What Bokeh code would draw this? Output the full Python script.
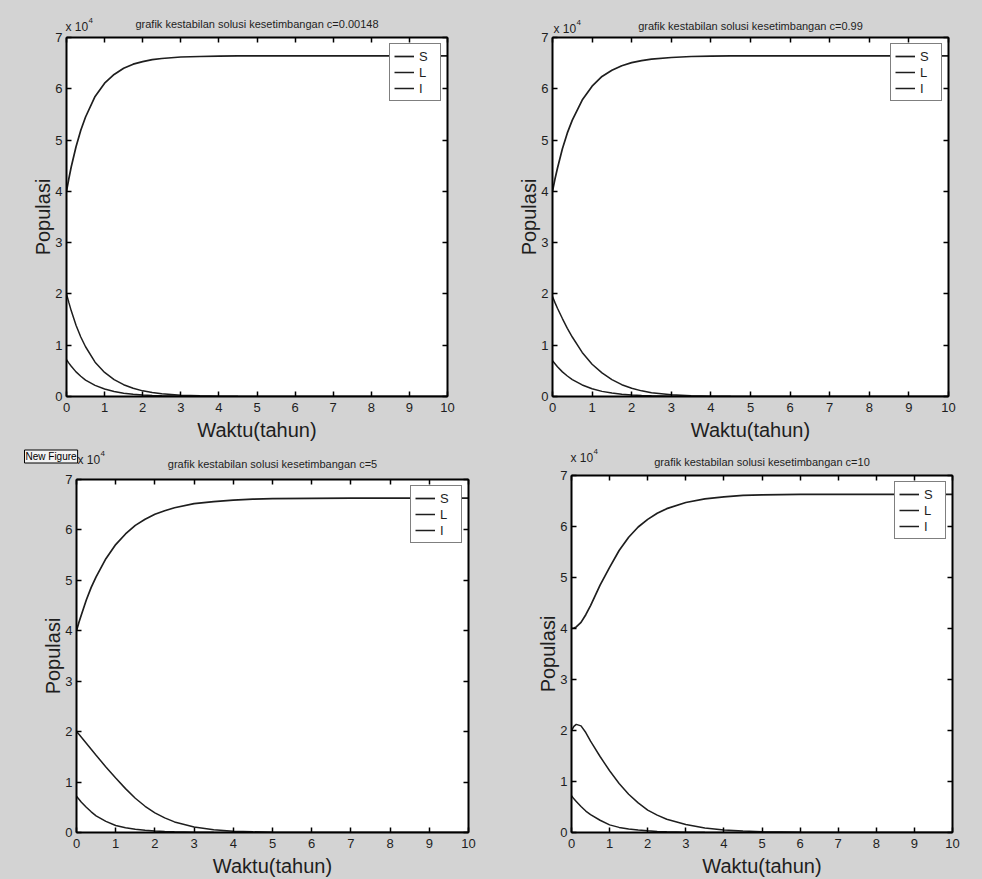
from bokeh.plotting import figure
from bokeh.layouts import row, column
from bokeh.models import LinearAxis, FixedTicker, Label, Range1d, Legend, LegendItem
from bokeh.embed import file_html
from bokeh.resources import INLINE

# ---------------- data (population values in units of 10^4) ----------------
t = [0, 0.0625, 0.125, 0.25, 0.375, 0.5, 0.75, 1, 1.25, 1.5, 1.75, 2, 2.25, 2.5,
     3, 3.5, 4, 4.5, 5, 6, 7, 8, 9, 10]

titles = ["grafik kestabilan solusi kesetimbangan c=0.00148",
          "grafik kestabilan solusi kesetimbangan c=0.99",
          "grafik kestabilan solusi kesetimbangan c=5",
          "grafik kestabilan solusi kesetimbangan c=10"]

series_names = ["S", "L", "I"]

# c = 0.00148
S_c1 = [4.00, 4.25, 4.48, 4.87, 5.19, 5.45, 5.85, 6.11, 6.28, 6.40, 6.48, 6.53, 6.57, 6.59,
        6.62, 6.63, 6.635, 6.64, 6.64, 6.64, 6.64, 6.64, 6.64, 6.64]
L_c1 = [2.00, 1.83, 1.67, 1.39, 1.16, 0.97, 0.67, 0.47, 0.33, 0.23, 0.16, 0.11, 0.077, 0.053,
        0.026, 0.013, 0.006, 0.003, 0.0015, 0, 0, 0, 0, 0]
I_c1 = [0.72, 0.65, 0.59, 0.48, 0.395, 0.32, 0.217, 0.145, 0.097, 0.065, 0.044, 0.029, 0.02, 0.013,
        0.006, 0.003, 0.001, 0, 0, 0, 0, 0, 0, 0]

# c = 0.99
S_c2 = [4.00, 4.24, 4.45, 4.83, 5.14, 5.39, 5.78, 6.05, 6.24, 6.36, 6.45, 6.51, 6.55, 6.58,
        6.61, 6.63, 6.635, 6.64, 6.64, 6.64, 6.64, 6.64, 6.64, 6.64]
L_c2 = [1.95, 1.83, 1.72, 1.52, 1.33, 1.16, 0.86, 0.63, 0.46, 0.33, 0.23, 0.16, 0.11, 0.075,
        0.035, 0.016, 0.007, 0.003, 0.001, 0, 0, 0, 0, 0]
I_c2 = [0.70, 0.64, 0.58, 0.48, 0.40, 0.33, 0.225, 0.15, 0.10, 0.068, 0.046, 0.031, 0.021, 0.014,
        0.007, 0.003, 0.001, 0, 0, 0, 0, 0, 0, 0]

# c = 5
S_c3 = [4.00, 4.17, 4.32, 4.61, 4.86, 5.07, 5.43, 5.71, 5.92, 6.09, 6.21, 6.31, 6.38, 6.44,
        6.52, 6.56, 6.59, 6.61, 6.62, 6.625, 6.63, 6.63, 6.63, 6.63]
L_c3 = [2.00, 1.95, 1.89, 1.77, 1.65, 1.53, 1.30, 1.08, 0.87, 0.68, 0.52, 0.39, 0.29, 0.21,
        0.11, 0.055, 0.027, 0.013, 0.006, 0.001, 0, 0, 0, 0]
I_c3 = [0.72, 0.66, 0.60, 0.50, 0.41, 0.33, 0.22, 0.14, 0.095, 0.065, 0.045, 0.03, 0.02, 0.014,
        0.007, 0.003, 0.001, 0, 0, 0, 0, 0, 0, 0]

# c = 10
S_c4 = [4.00, 4.01, 4.03, 4.12, 4.27, 4.45, 4.85, 5.20, 5.53, 5.79, 5.99, 6.14, 6.26, 6.35,
        6.47, 6.54, 6.58, 6.61, 6.62, 6.63, 6.63, 6.63, 6.63, 6.63]
L_c4 = [2.00, 2.08, 2.12, 2.09, 1.96, 1.79, 1.49, 1.21, 0.96, 0.75, 0.58, 0.44, 0.34, 0.26,
        0.155, 0.09, 0.05, 0.027, 0.014, 0.003, 0, 0, 0, 0]
I_c4 = [0.72, 0.66, 0.61, 0.51, 0.42, 0.35, 0.24, 0.15, 0.10, 0.07, 0.05, 0.033, 0.022, 0.015,
        0.007, 0.003, 0.001, 0, 0, 0, 0, 0, 0, 0]

x_ticks = [0, 1, 2, 3, 4, 5, 6, 7, 8, 9, 10]
y_ticks = [0, 1, 2, 3, 4, 5, 6, 7]

# ---------------- styling ----------------
FONT = "Liberation Sans"
BG = "#d3d3d3"
INK = "#1e1e1e"


def make_panel(title, S, L, I, width, height, borders, title_off, exp_off, new_fig=False):
    left, right, top, bottom = borders
    p = figure(width=width, height=height, title=None,
               x_range=Range1d(0, 10), y_range=Range1d(0, 7),
               output_backend="svg", toolbar_location=None,
               min_border_left=left, min_border_right=right,
               min_border_top=top, min_border_bottom=bottom)
    p.border_fill_color = BG
    p.background_fill_color = "white"
    p.outline_line_color = "black"
    p.outline_line_width = 1
    p.xgrid.visible = False
    p.ygrid.visible = False

    p.xaxis.ticker = FixedTicker(ticks=x_ticks)
    p.yaxis.ticker = FixedTicker(ticks=y_ticks)
    p.xaxis.axis_label = "Waktu(tahun)"
    p.yaxis.axis_label = "Populasi"

    for ax in (p.xaxis[0], p.yaxis[0]):
        ax.axis_line_width = 2
        ax.axis_line_color = "black"
        ax.major_tick_in = 5
        ax.major_tick_out = 0
        ax.major_tick_line_width = 1.5
        ax.minor_tick_line_color = None
        ax.major_label_text_font = FONT
        ax.major_label_text_font_size = "13px"
        ax.major_label_text_color = INK
        ax.axis_label_text_font = FONT
        ax.axis_label_text_font_size = "20px"
        ax.axis_label_text_font_style = "normal"
        ax.axis_label_text_color = INK
    p.xaxis[0].major_label_standoff = 6
    p.xaxis[0].axis_label_standoff = 4
    p.yaxis[0].major_label_standoff = 4
    p.yaxis[0].axis_label_standoff = -2

    # tick-only axes on the top and right (box style)
    for loc, tk in (("above", x_ticks), ("right", y_ticks)):
        ax = LinearAxis(ticker=FixedTicker(ticks=tk))
        ax.axis_line_width = 2
        ax.axis_line_color = "black"
        ax.major_tick_in = 5
        ax.major_tick_out = 0
        ax.major_tick_line_width = 1.5
        ax.minor_tick_line_color = None
        ax.major_label_text_color = None
        ax.major_label_text_font_size = "0px"
        ax.major_label_standoff = 0
        p.add_layout(ax, loc)

    rS = p.line(t, S, line_color=INK, line_width=1.7)
    rL = p.line(t, L, line_color=INK, line_width=1.5)
    rI = p.line(t, I, line_color=INK, line_width=1.5)

    legend = Legend(items=[LegendItem(label=series_names[0], renderers=[rS]),
                           LegendItem(label=series_names[1], renderers=[rL]),
                           LegendItem(label=series_names[2], renderers=[rI])],
                    location="top_right")
    legend.border_line_color = "black"
    legend.border_line_width = 1
    legend.background_fill_color = "white"
    legend.background_fill_alpha = 1
    legend.margin = 6
    legend.padding = 4
    legend.spacing = 0
    legend.glyph_width = 20
    legend.glyph_height = 16
    legend.label_height = 16
    legend.label_width = 17
    legend.label_standoff = 5
    legend.label_text_font = FONT
    legend.label_text_font_size = "13px"
    legend.label_text_color = INK
    p.add_layout(legend)

    # Texts outside the frame are placed in side panels (so they are not clipped);
    # their position comes from the frame's corner plus a pixel offset.
    p.add_layout(Label(x=5, y=7, text=title, x_offset=0, y_offset=title_off,
                       text_font=FONT, text_font_size="11px", text_color=INK,
                       text_align="center", text_baseline="middle"), "above")
    if new_fig:
        p.add_layout(Label(x=0, y=7, text="New Figure", x_offset=-52, y_offset=23,
                           text_font=FONT, text_font_size="10px", text_color="black",
                           text_align="left", text_baseline="middle",
                           background_fill_color="#f2f2f2",
                           border_line_color="black", border_line_width=1,
                           padding=1), "above")
    dx, dy = exp_off
    p.add_layout(Label(x=0, y=7, text="x 10", x_offset=dx, y_offset=dy,
                       text_font=FONT, text_font_size="12px", text_color=INK,
                       text_align="left", text_baseline="middle"), "left")
    p.add_layout(Label(x=0, y=7, text="4", x_offset=dx + 23, y_offset=dy + 6,
                       text_font=FONT, text_font_size="8px", text_color=INK,
                       text_align="left", text_baseline="middle"), "left")
    return p


p1 = make_panel(titles[0], S_c1, L_c1, I_c1, 485, 445, (66, 38, 37, 49), 14, (-1, 11))
p2 = make_panel(titles[1], S_c2, L_c2, I_c2, 497, 445, (67, 34, 37, 48), 12, (1, 9))
p3 = make_panel(titles[2], S_c3, L_c3, I_c3, 492, 434, (76, 24, 34, 46), 16, (1, 20),
                new_fig=True)
p4 = make_panel(titles[3], S_c4, L_c4, I_c4, 490, 434, (79, 30, 30, 45), 14, (-1, 18))

layout = column(row(p1, p2, styles={"background-color": BG}),
                row(column(p3), column(p4), styles={"background-color": BG}),
                styles={"background-color": BG})

with open("out.html", "w") as f:
    f.write(file_html(layout, INLINE))
